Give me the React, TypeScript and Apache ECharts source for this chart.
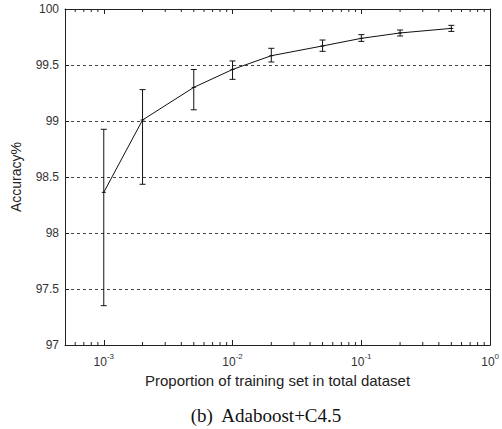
import React, { useEffect, useRef } from "react";
import * as echarts from "echarts";

const proportions = [0.001, 0.002, 0.005, 0.01, 0.02, 0.05, 0.1, 0.2, 0.5];
const meanAccuracy = [98.363, 99.009, 99.3, 99.46, 99.583, 99.67, 99.738, 99.786, 99.827];
const lowerAccuracy = [97.351, 98.435, 99.1, 99.372, 99.527, 99.622, 99.711, 99.759, 99.8];
const upperAccuracy = [98.926, 99.28, 99.46, 99.536, 99.649, 99.723, 99.771, 99.8125, 99.854];
const minorTickValues = [
  0.0006, 0.0007, 0.0008, 0.0009,
  0.002, 0.003, 0.004, 0.005, 0.006, 0.007, 0.008, 0.009,
  0.02, 0.03, 0.04, 0.05, 0.06, 0.07, 0.08, 0.09,
  0.2, 0.3, 0.4, 0.5, 0.6, 0.7, 0.8, 0.9,
];
const xMin = 0.0005;
const xMax = 1;
const yMin = 97;
const yMax = 100;
const yInterval = 0.5;

const FONT = "'Liberation Sans', Arial, sans-serif";
const INK = "#222";

export default function App() {
  const ref = useRef<HTMLDivElement>(null);
  useEffect(() => {
    if (!ref.current) return;
    const chart = echarts.init(ref.current, undefined, { renderer: "svg" });
    const supLabel = (v: number) => {
      const e = Math.log10(v);
      if (Math.abs(e - Math.round(e)) > 1e-6) return "";
      return "{b|10}{s|" + Math.round(e) + "}";
    };
    const option: any = {
      animation: false,
      backgroundColor: "#fff",
      grid: { left: 65, right: 11, top: 9, bottom: 84, containLabel: false },
      xAxis: [
        {
          type: "log",
          logBase: 10,
          min: xMin,
          max: xMax,
          position: "bottom",
          axisLine: { show: true, lineStyle: { color: INK, width: 1 } },
          axisTick: { show: true, inside: true, length: 5, lineStyle: { color: INK } },
          minorTick: { show: false },
          splitLine: { show: false },
          axisLabel: {
            formatter: supLabel,
            margin: 7,
            rich: {
              b: { fontSize: 12, fontFamily: FONT, color: "#333", lineHeight: 16, verticalAlign: "bottom" },
              s: { fontSize: 8, fontFamily: FONT, color: "#333", lineHeight: 16, verticalAlign: "top", padding: [0, 0, 6, 0] },
            },
          },
          name: "Proportion of training set in total dataset",
          nameLocation: "middle",
          nameGap: 28,
          nameTextStyle: { fontSize: 15, fontFamily: FONT, color: "#222" },
        },
        {
          type: "log",
          logBase: 10,
          min: xMin,
          max: xMax,
          position: "top",
          axisLine: { show: true, lineStyle: { color: INK, width: 1 } },
          axisTick: { show: true, inside: true, length: 5, lineStyle: { color: INK } },
          axisLabel: { show: false },
          splitLine: { show: false },
        },
      ],
      yAxis: [
        {
          type: "value",
          min: yMin,
          max: yMax,
          interval: yInterval,
          position: "left",
          axisLine: { show: true, lineStyle: { color: INK, width: 1 } },
          axisTick: { show: true, inside: true, length: 4, lineStyle: { color: INK } },
          axisLabel: {
            fontSize: 12,
            fontFamily: FONT,
            color: "#333",
            margin: 6,
            formatter: (v: number) => String(Number(v.toFixed(1))),
          },
          splitLine: { show: true, lineStyle: { color: "#444", type: [3, 3], width: 1 } },
          name: "Accuracy%",
          nameLocation: "middle",
          nameGap: 42,
          nameRotate: 90,
          nameTextStyle: { fontSize: 14, fontFamily: FONT, color: "#222" },
        },
        {
          type: "value",
          min: yMin,
          max: yMax,
          interval: yInterval,
          position: "right",
          axisLine: { show: true, lineStyle: { color: INK, width: 1 } },
          axisTick: { show: true, inside: true, length: 5, lineStyle: { color: INK } },
          axisLabel: { show: false },
          splitLine: { show: false },
        },
      ],
      graphic: [
        {
          type: "text",
          x: 266,
          y: 415,
          style: {
            text: "(b)  Adaboost+C4.5",
            font: "19px 'Liberation Serif', 'Times New Roman', serif",
            fill: "#111",
            textAlign: "center",
            textVerticalAlign: "middle",
          },
        },
      ],
      series: [
        {
          type: "custom",
          name: "minorTicks",
          silent: true,
          xAxisIndex: 0,
          yAxisIndex: 0,
          data: minorTickValues.map((v) => [v, yMin]),
          renderItem: (params: any, api: any) => {
            const b = api.coord([api.value(0), yMin]);
            const t = api.coord([api.value(0), yMax]);
            const style = { stroke: INK, lineWidth: 1 };
            return {
              type: "group",
              children: [
                { type: "line", shape: { x1: b[0], y1: b[1], x2: b[0], y2: b[1] - 3 }, style },
                { type: "line", shape: { x1: t[0], y1: t[1], x2: t[0], y2: t[1] + 3 }, style },
              ],
            };
          },
          z: 3,
        },
        {
          type: "line",
          name: "mean",
          data: proportions.map((p, i) => [p, meanAccuracy[i]]),
          symbol: "none",
          lineStyle: { color: "#111", width: 1 },
          z: 4,
        },
        {
          type: "custom",
          name: "errorBars",
          data: proportions.map((p, i) => [p, lowerAccuracy[i], upperAccuracy[i], meanAccuracy[i]]),
          renderItem: (params: any, api: any) => {
            const lo = api.coord([api.value(0), api.value(1)]);
            const hi = api.coord([api.value(0), api.value(2)]);
            const mid = api.coord([api.value(0), api.value(3)]);
            const w = 3;
            const style = { stroke: "#111", lineWidth: 1 };
            return {
              type: "group",
              children: [
                { type: "line", shape: { x1: lo[0], y1: lo[1], x2: hi[0], y2: hi[1] }, style },
                { type: "line", shape: { x1: lo[0] - w, y1: lo[1], x2: lo[0] + w, y2: lo[1] }, style },
                { type: "line", shape: { x1: hi[0] - w, y1: hi[1], x2: hi[0] + w, y2: hi[1] }, style },
                { type: "line", shape: { x1: mid[0] - 2, y1: mid[1], x2: mid[0] + 2, y2: mid[1] }, style },
              ],
            };
          },
          z: 5,
        },
      ],
    };
    chart.setOption(option);
    return () => chart.dispose();
  }, []);
  return <div ref={ref} style={{ width: 502, height: 429, position: "absolute", left: 0, top: 0 }} />;
}
